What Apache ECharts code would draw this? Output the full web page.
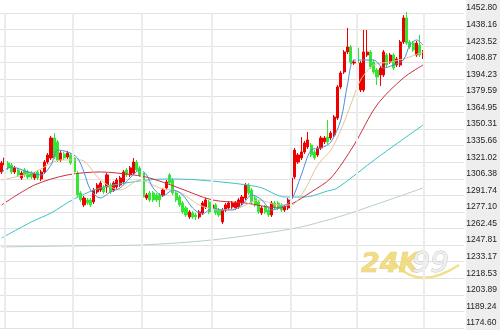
<!DOCTYPE html>
<html><head><meta charset="utf-8">
<script src="https://cdn.jsdelivr.net/npm/echarts@6/dist/echarts.min.js"></script>
<style>html,body{margin:0;padding:0;background:#fff}#c{width:500px;height:330px}</style>
</head><body><div id="c"></div>
<script>
// price tick labels, top to bottom
const yTickLabels = ['1452.80','1438.16','1423.52','1408.87','1394.23','1379.59','1364.95','1350.31','1335.66','1321.02','1306.38','1291.74','1277.10','1262.45','1247.81','1233.17','1218.53','1203.89','1189.24','1174.60'];
// candles: [open, close, low, high]
const candles = [
[1312.4,1320.3,1310.6,1322.1],[1318.6,1324.8,1316.8,1327.4],[1320.3,1316.0,1314.2,1322.1],[1318.6,1312.4,1310.6,1320.3],
[1312.4,1316.0,1310.6,1317.7],[1314.2,1309.8,1308.0,1315.9],[1307.1,1311.5,1305.3,1313.3],[1314.2,1309.8,1308.0,1316.0],
[1312.4,1308.0,1306.2,1314.2],[1311.5,1308.0,1306.2,1313.3],[1307.1,1310.6,1305.3,1312.4],[1312.4,1307.1,1305.3,1314.2],
[1306.2,1312.4,1304.4,1314.2],[1312.4,1321.2,1310.6,1323.0],[1321.2,1327.4,1319.5,1329.2],[1324.8,1342.4,1323.0,1344.2],
[1342.4,1325.6,1323.9,1346.8],[1338.9,1323.0,1321.2,1340.7],[1323.0,1329.2,1321.2,1331.0],[1328.3,1324.8,1323.0,1330.1],
[1325.6,1329.2,1323.9,1331.0],[1327.4,1320.3,1318.6,1329.2],[1324.8,1312.4,1310.6,1326.5],[1311.5,1292.1,1290.3,1313.3],
[1293.9,1287.7,1285.9,1295.6],[1283.3,1289.4,1281.5,1291.2],[1287.7,1285.0,1283.3,1289.4],[1287.7,1283.3,1281.5,1289.4],
[1285.9,1296.5,1284.1,1298.3],[1294.7,1300.9,1293.0,1302.7],[1296.5,1302.7,1294.7,1304.4],[1299.2,1294.7,1293.0,1301.0],
[1299.2,1309.8,1293.9,1311.5],[1300.9,1294.7,1293.0,1302.7],[1296.5,1302.7,1294.7,1304.4],[1299.2,1305.3,1297.4,1307.1],
[1300.9,1307.1,1299.2,1308.9],[1303.6,1312.4,1301.8,1314.2],[1314.2,1309.8,1308.0,1315.9],[1309.8,1316.0,1308.0,1317.7],
[1311.5,1321.2,1309.8,1324.8],[1321.2,1314.2,1312.4,1323.0],[1316.0,1309.8,1308.0,1317.7],[1311.5,1290.3,1288.5,1313.3],
[1289.4,1292.1,1287.7,1293.9],[1293.9,1287.7,1285.9,1295.6],[1293.9,1287.7,1285.9,1295.6],[1292.1,1287.7,1285.9,1293.9],
[1292.1,1287.7,1281.5,1293.9],[1292.1,1296.5,1290.3,1298.3],[1298.3,1303.6,1296.5,1305.3],[1309.8,1302.7,1300.9,1311.5],
[1305.3,1293.9,1292.1,1307.1],[1293.9,1287.7,1285.9,1295.6],[1290.3,1283.3,1281.5,1292.1],[1285.0,1277.1,1275.3,1286.8],
[1280.6,1274.4,1272.6,1282.4],[1272.7,1277.1,1270.9,1278.8],[1276.2,1272.7,1270.9,1278.0],[1274.4,1272.7,1270.0,1276.2],
[1272.7,1277.1,1270.9,1278.8],[1276.2,1285.0,1274.4,1286.8],[1281.5,1287.7,1279.7,1289.4],[1285.9,1277.1,1275.3,1287.7],
[1280.6,1283.3,1278.8,1285.0],[1283.3,1276.2,1274.4,1285.0],[1278.8,1274.4,1272.6,1280.6],[1268.3,1278.8,1266.5,1280.6],
[1278.8,1283.3,1277.1,1285.0],[1280.6,1285.0,1278.8,1286.8],[1281.5,1285.0,1279.7,1286.8],[1280.6,1285.0,1278.8,1286.8],
[1281.5,1287.7,1279.7,1289.4],[1285.0,1290.3,1283.3,1292.1],[1289.4,1300.9,1287.7,1302.7],[1300.9,1293.9,1292.1,1302.7],
[1296.5,1285.9,1284.1,1298.3],[1289.4,1283.3,1281.5,1291.2],[1285.9,1277.1,1275.3,1287.7],[1276.2,1280.6,1274.4,1282.4],
[1281.5,1277.1,1275.3,1283.3],[1278.8,1274.4,1272.6,1280.6],[1274.4,1285.0,1272.6,1286.8],[1285.0,1281.5,1279.7,1286.8],
[1285.0,1280.6,1278.8,1286.8],[1283.3,1278.8,1277.1,1285.0],[1278.8,1281.5,1277.1,1283.3],[1280.6,1287.7,1278.8,1289.4],
[1289.4,1307.1,1287.7,1308.9],[1308.0,1331.8,1306.2,1333.6],[1321.2,1327.4,1319.5,1329.2],[1324.8,1330.1,1323.0,1343.3],
[1330.1,1338.0,1328.3,1339.8],[1334.5,1340.7,1332.7,1347.7],[1336.2,1327.4,1325.6,1338.0],[1330.1,1324.8,1323.0,1331.8],
[1327.4,1333.6,1325.6,1335.4],[1333.6,1342.4,1331.8,1344.2],[1339.0,1342.4,1337.1,1344.2],[1343.3,1338.9,1337.1,1358.3],
[1342.4,1346.8,1340.7,1348.6],[1345.1,1361.0,1343.3,1362.7],[1360.1,1387.5,1358.3,1389.2],[1387.5,1399.8,1385.7,1401.6],
[1400.7,1418.4,1398.9,1420.1],[1418.4,1422.8,1416.6,1439.6],[1422.8,1409.5,1407.8,1424.5],[1408.6,1409.5,1406.9,1411.3],
[1421.9,1408.6,1406.9,1424.5],[1384.8,1408.6,1383.0,1410.4],[1384.8,1418.4,1383.0,1437.8],[1415.7,1418.4,1414.0,1437.8],
[1418.4,1405.1,1403.4,1420.1],[1409.5,1400.7,1398.9,1411.3],[1402.5,1396.3,1389.2,1404.2],[1398.1,1404.2,1388.4,1406.0],
[1398.1,1418.4,1396.3,1420.1],[1415.7,1406.9,1405.1,1417.5],[1409.5,1415.7,1407.8,1417.5],[1415.7,1404.2,1402.5,1417.5],
[1406.9,1412.2,1405.1,1414.0],[1406.9,1427.2,1405.1,1429.0],[1427.2,1448.4,1425.4,1451.0],[1448.4,1426.3,1424.5,1453.7],
[1427.2,1422.8,1421.0,1429.0],[1426.3,1420.1,1418.4,1428.1],[1415.7,1426.3,1414.0,1428.1],[1424.5,1415.7,1414.0,1433.4],
[1413.9,1418.4,1412.2,1420.1]
];
const emptySlots = 12;
// moving averages: [candle index, price]
const ma5 = [[0,1312.4],[3,1316.8],[8,1312.4],[12,1309.8],[15,1318.6],[17,1331.8],[20,1330.1],[23,1324.8],[25,1312.4],[27,1296.5],[30,1289.4],[33,1294.7],[36,1298.3],[39,1307.1],[42,1314.2],[44,1309.8],[46,1298.3],[49,1291.2],[52,1296.5],[55,1292.1],[58,1280.6],[61,1275.3],[64,1280.6],[67,1278.8],[70,1278.8],[73,1283.3],[76,1292.1],[79,1287.7],[82,1278.8],[85,1281.5],[88,1287.7],[91,1309.8],[94,1331.8],[97,1333.6],[100,1338.9],[103,1358.3],[105,1389.2],[107,1411.3],[110,1411.3],[113,1411.3],[116,1404.2],[119,1406.9],[122,1411.3],[124,1424.5],[126,1429.0],[128,1424.5]];
const ma10 = [[0,1305.3],[10,1312.4],[18,1323.0],[24,1323.0],[30,1305.3],[36,1296.5],[42,1305.3],[48,1298.3],[54,1294.7],[60,1283.3],[66,1278.8],[72,1280.6],[78,1287.7],[84,1283.3],[88,1283.3],[92,1296.5],[96,1318.6],[100,1331.8],[103,1349.5],[106,1371.6],[109,1393.6],[113,1406.9],[118,1409.5],[123,1413.1],[128,1418.4]];
const ma30 = [[0,1283.3],[10,1300.9],[20,1309.8],[30,1312.4],[40,1309.8],[45,1307.1],[53,1299.2],[64,1287.7],[74,1285.0],[84,1280.6],[88,1284.1],[94,1294.7],[100,1307.1],[107,1336.2],[114,1371.6],[122,1395.4],[128,1406.9]];
const ma60 = [[0,1254.1],[9,1268.2],[15,1276.2],[22,1288.6],[30,1298.3],[42,1304.5],[50,1306.2],[60,1305.3],[78,1299.2],[86,1290.3],[92,1290.3],[99,1295.6],[102,1298.3],[114,1324.8],[128,1353.9]];
const ma120 = [[0,1246.2],[22,1247.1],[43,1248.0],[64,1252.4],[88,1262.1],[98,1269.1],[107,1277.1],[128,1298.3]];
// vertical grid lines, in slot units along the time axis
const vGridSlots = [1.5, 22, 43.2, 64.4, 88.2, 108.2, 128.7];

const total = candles.length + emptySlots;
const cats = Array.from({length: total}, (_, i) => String(i));
const chart = echarts.init(document.getElementById('c'), null, {renderer: 'canvas'});
const lineS = (name, data, color) => ({name, type: 'line', data, xAxisIndex: 0, yAxisIndex: 0, symbol: 'none', smooth: 0.3, connectNulls: true, clip: false, silent: true, z: 3, lineStyle: {color, width: 1}});
chart.setOption({
  animation: false,
  backgroundColor: '#ffffff',
  graphic: [
    {type: 'rect', shape: {x: 466, y: 0, width: 34, height: 330}, style: {fill: '#eeeeee'}, z: -10, silent: true},
    {type: 'bezierCurve', silent: true, z: 1, shape: {x1: 394, y1: 262, x2: 459, y2: 265, cpx1: 418, cpy1: 292}, style: {stroke: '#f0dc78', lineWidth: 2.5, fill: null, opacity: 0.85}},
    {type: 'text', x: 361, y: 251, style: {text: '24K', font: 'italic bold 27px "DejaVu Sans"', fill: '#efd773', stroke: '#e2c45a', lineWidth: 0.6, opacity: 0.85}, z: 1, silent: true},
    {type: 'text', x: 412, y: 250, style: {text: '99', font: 'italic 29px "DejaVu Sans"', fill: '#eeeeee', stroke: '#bdbdbd', lineWidth: 0.8, opacity: 0.9}, z: 1, silent: true}
  ],
  grid: {left: 0, right: 34, top: 13, bottom: 2, containLabel: false},
  xAxis: [
    {type: 'category', data: cats, boundaryGap: true, show: false},
    {type: 'value', min: 0, max: total, show: false, gridIndex: 0}
  ],
  yAxis: [
    {type: 'value', min: 1174.60, max: 1452.80, show: false, scale: true},
    {type: 'value', min: 0, max: 19, interval: 1, position: 'right', gridIndex: 0,
     axisLine: {show: false}, axisTick: {show: false},
     splitLine: {show: true, lineStyle: {color: '#e2e2e2', width: 1}},
     axisLabel: {show: true, margin: 2, fontSize: 8.5, fontFamily: '"Liberation Sans", Arial, sans-serif', color: '#222', verticalAlign: 'bottom', lineHeight: 10,
       formatter: v => yTickLabels[19 - Math.round(v)]}}
  ],
  series: [
    {type: 'line', xAxisIndex: 1, yAxisIndex: 1, data: [], silent: true,
     markLine: {silent: true, symbol: 'none', label: {show: false}, lineStyle: {color: '#ececec', width: 2, type: 'solid'},
       data: vGridSlots.map(v => ({xAxis: v}))}},
    {type: 'candlestick', data: candles, xAxisIndex: 0, yAxisIndex: 0, barWidth: 2.6, clip: false, z: 2, silent: true,
     itemStyle: {color: '#ee0000', color0: '#33e633', borderColor: '#ee0000', borderColor0: '#33e633', borderWidth: 1}},
    lineS('MA120', ma120, '#b8cdd2'),
    lineS('MA60', ma60, '#3fc1c6'),
    lineS('MA30', ma30, '#cc2f3a'),
    lineS('MA10', ma10, '#e6c29a'),
    lineS('MA5', ma5, '#4a8fd8')
  ]
});
</script></body></html>
